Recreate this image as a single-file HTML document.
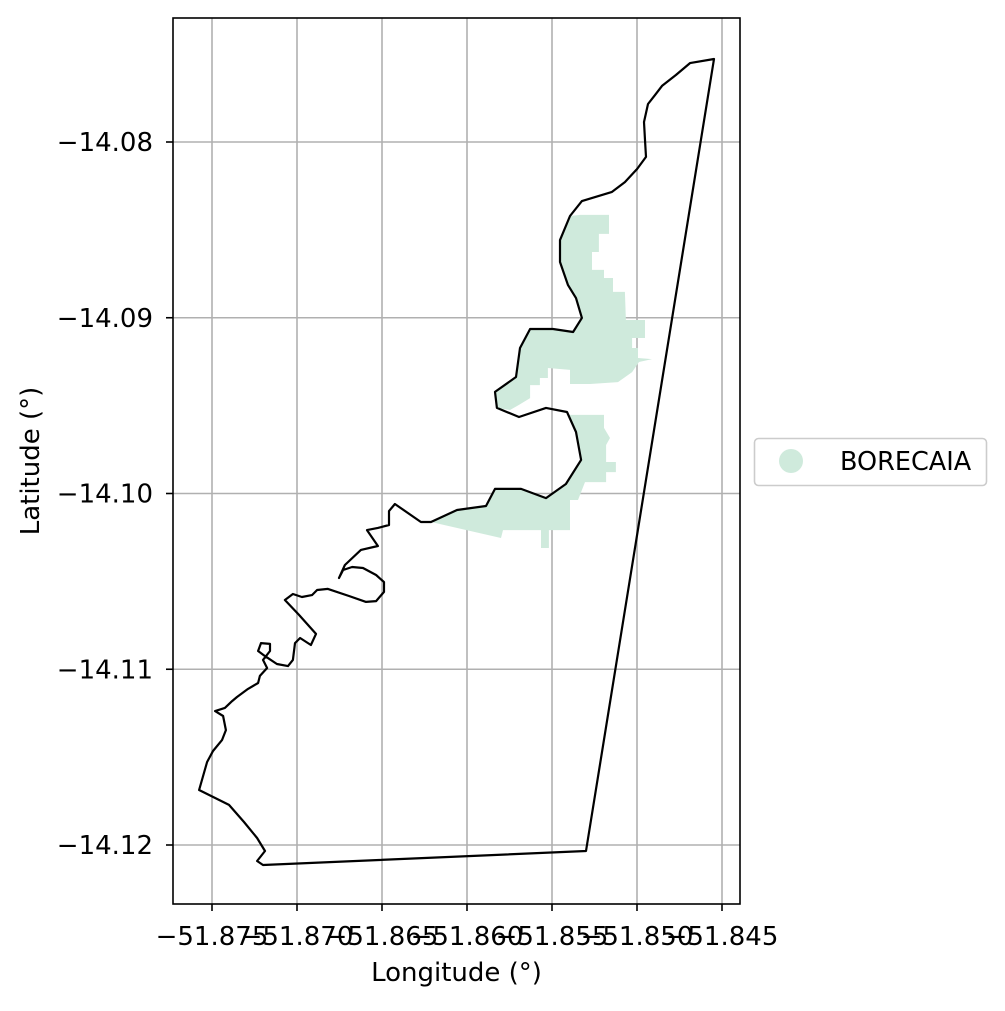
<!DOCTYPE html>
<html><head><meta charset="utf-8"><style>
body{margin:0;background:#fff}
svg text{font-family:"DejaVu Sans","Liberation Sans",sans-serif;fill:#000}
</style></head><body>
<svg id="chart" width="1005" height="1006" xmlns="http://www.w3.org/2000/svg"></svg>
<script>
const xTicks=[-51.875,-51.870,-51.865,-51.860,-51.855,-51.850,-51.845];
const xTickLabels=["\u221251.875","\u221251.870","\u221251.865","\u221251.860","\u221251.855","\u221251.850","\u221251.845"];
const yTicks=[-14.08,-14.09,-14.10,-14.11,-14.12];
const yTickLabels=["\u221214.08","\u221214.09","\u221214.10","\u221214.11","\u221214.12"];
const legendLabels=["BORECAIA"];
const outlineLon=[-51.84547,-51.84688,-51.84771,-51.84853,-51.84894,-51.84935,-51.84959,-51.84953,-51.84947,-51.85000,-51.85071,-51.85147,-51.85324,-51.85394,-51.85453,-51.85453,-51.85406,-51.85359,-51.85324,-51.85376,-51.85494,-51.85629,-51.85688,-51.85712,-51.85835,-51.85824,-51.85694,-51.85535,-51.85412,-51.85359,-51.85329,-51.85418,-51.85535,-51.85682,-51.85835,-51.85888,-51.86059,-51.86212,-51.86271,-51.86424,-51.86459,-51.86459,-51.86524,-51.86588,-51.86524,-51.86624,-51.86718,-51.86753,-51.86729,-51.86676,-51.86612,-51.86535,-51.86488,-51.86488,-51.86535,-51.86594,-51.86694,-51.86818,-51.86882,-51.86912,-51.86971,-51.87024,-51.87071,-51.86988,-51.86888,-51.86918,-51.86982,-51.87012,-51.87024,-51.87053,-51.87118,-51.87188,-51.87229,-51.87212,-51.87159,-51.87159,-51.87200,-51.87176,-51.87218,-51.87229,-51.87288,-51.87353,-51.87382,-51.87424,-51.87482,-51.87435,-51.87418,-51.87441,-51.87494,-51.87529,-51.87576,-51.87400,-51.87312,-51.87235,-51.87188,-51.87235,-51.87200,-51.85300];
const outlineLat=[-14.07528,-14.07551,-14.07619,-14.07681,-14.07733,-14.07784,-14.07886,-14.07989,-14.08085,-14.08154,-14.08228,-14.08284,-14.08336,-14.08421,-14.08558,-14.08683,-14.08814,-14.08888,-14.09001,-14.09081,-14.09064,-14.09064,-14.09172,-14.09337,-14.09422,-14.09513,-14.09565,-14.09513,-14.09536,-14.09650,-14.09809,-14.09946,-14.10026,-14.09974,-14.09974,-14.10071,-14.10094,-14.10162,-14.10162,-14.10060,-14.10100,-14.10179,-14.10196,-14.10208,-14.10299,-14.10321,-14.10407,-14.10481,-14.10435,-14.10418,-14.10424,-14.10464,-14.10504,-14.10560,-14.10612,-14.10617,-14.10583,-14.10543,-14.10549,-14.10578,-14.10589,-14.10572,-14.10606,-14.10691,-14.10799,-14.10862,-14.10822,-14.10851,-14.10947,-14.10982,-14.10970,-14.10925,-14.10896,-14.10851,-14.10856,-14.10896,-14.10947,-14.10993,-14.11038,-14.11078,-14.11112,-14.11158,-14.11181,-14.11220,-14.11238,-14.11266,-14.11346,-14.11403,-14.11465,-14.11528,-14.11687,-14.11772,-14.11869,-14.11960,-14.12034,-14.12091,-14.12114,-14.12034];
const zoneALon=[-51.85335,-51.85165,-51.85165,-51.85224,-51.85224,-51.85265,-51.85265,-51.85194,-51.85194,-51.85141,-51.85141,-51.85071,-51.85065,-51.84953,-51.84953,-51.85029,-51.85029,-51.84994,-51.84994,-51.84912,-51.84988,-51.85029,-51.85112,-51.85276,-51.85394,-51.85394,-51.85524,-51.85524,-51.85571,-51.85571,-51.85629,-51.85629,-51.85694,-51.85747,-51.85824,-51.85835,-51.85712,-51.85688,-51.85629,-51.85494,-51.85376,-51.85324,-51.85359,-51.85406,-51.85453,-51.85453,-51.85394];
const zoneALat=[-14.08415,-14.08415,-14.08523,-14.08523,-14.08626,-14.08626,-14.08728,-14.08728,-14.08774,-14.08774,-14.08853,-14.08853,-14.09013,-14.09013,-14.09115,-14.09115,-14.09172,-14.09172,-14.09229,-14.09235,-14.09252,-14.09309,-14.09366,-14.09377,-14.09377,-14.09297,-14.09286,-14.09343,-14.09343,-14.09383,-14.09383,-14.09457,-14.09496,-14.09525,-14.09513,-14.09422,-14.09337,-14.09172,-14.09064,-14.09064,-14.09081,-14.09001,-14.08888,-14.08814,-14.08683,-14.08558,-14.08421];
const zoneBLon=[-51.85406,-51.85194,-51.85194,-51.85159,-51.85182,-51.85182,-51.85124,-51.85124,-51.85182,-51.85182,-51.85306,-51.85347,-51.85394,-51.85394,-51.85518,-51.85518,-51.85565,-51.85565,-51.85788,-51.85800,-51.86212,-51.86059,-51.85888,-51.85835,-51.85682,-51.85535,-51.85418,-51.85329,-51.85359,-51.85412];
const zoneBLat=[-14.09553,-14.09553,-14.09627,-14.09684,-14.09724,-14.09821,-14.09821,-14.09878,-14.09878,-14.09935,-14.09935,-14.10037,-14.10037,-14.10208,-14.10208,-14.10310,-14.10310,-14.10208,-14.10208,-14.10253,-14.10162,-14.10094,-14.10071,-14.09974,-14.09974,-14.10026,-14.09946,-14.09809,-14.09650,-14.09536];

const L=173,R=740,T=18,B=904;
function xs(v){return 212+(v+51.875)*17000;}
function ys(v){return 142-(v+14.08)*17575;}
const NS="http://www.w3.org/2000/svg";
const svg=document.getElementById('chart');
function mk(tag,attrs,parent){const e=document.createElementNS(NS,tag);for(const k in attrs)e.setAttribute(k,attrs[k]);(parent||svg).appendChild(e);return e;}

const grid=mk('g',{});


xTicks.forEach((v,i)=>{
  const x=xs(v);
  const gl=mk('line',{x1:x,x2:x,y1:T,y2:B,stroke:'#b0b0b0','stroke-width':1.6},grid);
  
  
  const tk=mk('line',{x1:x,x2:x,y1:B,y2:B+7,stroke:'#000','stroke-width':1.6});
  
  
  const t=mk('text',{x:x,y:945,'text-anchor':'middle','font-size':26});
  t.textContent=xTickLabels[i];
  
  
});
yTicks.forEach((v,i)=>{
  const y=ys(v);
  const gl=mk('line',{x1:L,x2:R,y1:y,y2:y,stroke:'#b0b0b0','stroke-width':1.6},grid);
  
  
  const tk=mk('line',{x1:L-7,x2:L,y1:y,y2:y,stroke:'#000','stroke-width':1.6});
  
  
  const t=mk('text',{x:L-20,y:y+9,'text-anchor':'end','font-size':26});
  t.textContent=yTickLabels[i];
  
  
});
function pts(lo,la){return lo.map((v,i)=>xs(v).toFixed(1)+','+ys(la[i]).toFixed(1)).join(' ');}
const za=mk('polygon',{points:pts(zoneALon,zoneALat),fill:'#cfeadc'});


const zb=mk('polygon',{points:pts(zoneBLon,zoneBLat),fill:'#cfeadc'});


const ol=mk('polygon',{points:pts(outlineLon,outlineLat),fill:'none',stroke:'#000','stroke-width':2.2,'stroke-linejoin':'round'});


const fr=mk('rect',{x:L,y:T,width:R-L,height:B-T,fill:'none',stroke:'#000','stroke-width':1.6});


const xt=mk('text',{x:(L+R)/2,y:981,'text-anchor':'middle','font-size':26});
xt.textContent='Longitude (°)';


const yt=mk('text',{x:39,y:(T+B)/2,'text-anchor':'middle','font-size':26,transform:'rotate(-90 39 '+((T+B)/2)+')'});
yt.textContent='Latitude (°)';


const lg=mk('g',{});


mk('rect',{x:754.5,y:438.5,width:232,height:47,rx:4,fill:'#fff',stroke:'#ccc','stroke-width':1.6},lg);
legendLabels.forEach((lab,i)=>{
  const c=mk('circle',{cx:791,cy:461+i*30,r:12,fill:'#cfeadc'},lg);
  
  
  const t=mk('text',{x:840,y:470+i*30,'font-size':25.5},lg);
  t.textContent=lab;
  
  
});
</script>
</body></html>
